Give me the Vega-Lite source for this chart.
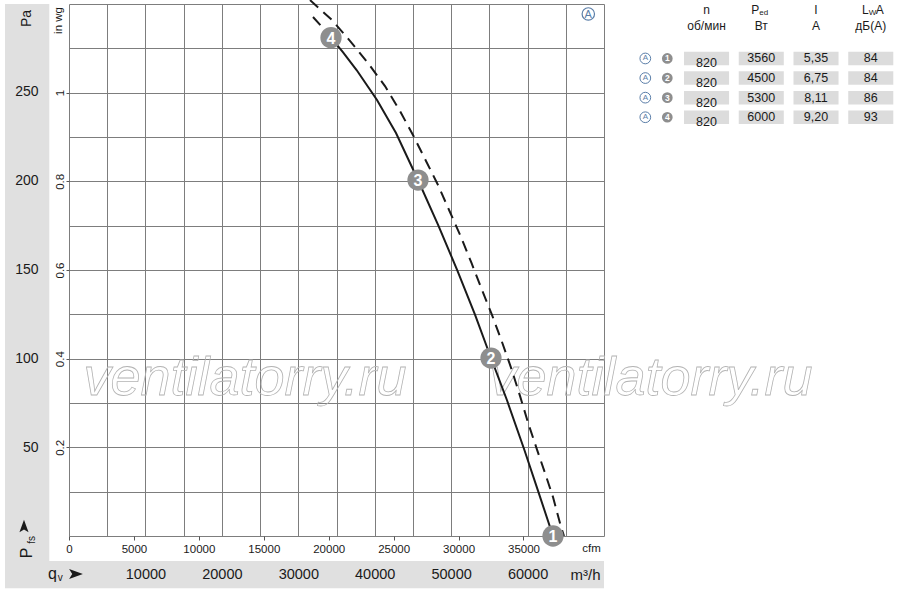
{
  "$schema": "https://vega.github.io/schema/vega-lite/v6.json",
  "width": 535,
  "height": 532,
  "autosize": {"type": "none"},
  "padding": {"left": 69, "top": 4, "right": 296, "bottom": 58},
  "background": "#ffffff",
  "config": {
    "font": "Liberation Sans, sans-serif",
    "view": {"stroke": null},
    "axis": {
      "labelColor": "#1a1a1a",
      "titleColor": "#1a1a1a",
      "titleFontWeight": "normal",
      "domain": false,
      "labelFlush": false,
      "labelOverlap": false,
      "gridColor": "#7d7d7d",
      "gridOpacity": 1,
      "gridWidth": 1,
      "tickColor": "#555555"
    },
    "text": {"color": "#1a1a1a"}
  },
  "datasets": {
    "curves": [
      {"s": "a", "q": 34280, "p": 280},
      {"s": "a", "q": 35837, "p": 271.9},
      {"s": "a", "q": 37630, "p": 261.8},
      {"s": "a", "q": 40299, "p": 245.0},
      {"s": "a", "q": 42785, "p": 226.4},
      {"s": "a", "q": 45663, "p": 200},
      {"s": "a", "q": 48306, "p": 174.7},
      {"s": "a", "q": 50779, "p": 149.5},
      {"s": "a", "q": 53134, "p": 124.2},
      {"s": "a", "q": 55214, "p": 100},
      {"s": "a", "q": 57295, "p": 76.4},
      {"s": "a", "q": 59585, "p": 48.3},
      {"s": "a", "q": 61338, "p": 25.8},
      {"s": "a", "q": 63327, "p": 0},
      {"s": "b", "q": 31925, "p": 291.6},
      {"s": "b", "q": 33103, "p": 286.0},
      {"s": "b", "q": 34280, "p": 280},
      {"s": "c", "q": 31532, "p": 301.1},
      {"s": "c", "q": 34411, "p": 289.9},
      {"s": "c", "q": 36897, "p": 277.5},
      {"s": "c", "q": 39121, "p": 265.7},
      {"s": "c", "q": 41345, "p": 252.8},
      {"s": "c", "q": 43308, "p": 238.8},
      {"s": "c", "q": 45074, "p": 224.7},
      {"s": "c", "q": 46710, "p": 210.7},
      {"s": "c", "q": 48215, "p": 197.8},
      {"s": "c", "q": 49785, "p": 182.6},
      {"s": "c", "q": 51289, "p": 168.0},
      {"s": "c", "q": 52663, "p": 153.4},
      {"s": "c", "q": 54102, "p": 137.6},
      {"s": "c", "q": 55345, "p": 124.2},
      {"s": "c", "q": 56654, "p": 109.0},
      {"s": "c", "q": 57897, "p": 93.8},
      {"s": "c", "q": 59009, "p": 78.7},
      {"s": "c", "q": 60121, "p": 62.9},
      {"s": "c", "q": 61168, "p": 49.4},
      {"s": "c", "q": 62280, "p": 35.4},
      {"s": "c", "q": 63327, "p": 21.9},
      {"s": "c", "q": 64373, "p": 5.1},
      {"s": "c", "q": 64766, "p": 0}
    ],
    "points": [
      {"k": "4", "q": 34280, "p": 280},
      {"k": "3", "q": 45663, "p": 200},
      {"k": "2", "q": 55214, "p": 100},
      {"k": "1", "q": 63327, "p": 0}
    ],
    "bands": [
      {"q": -8374, "q2": -2578, "p": 298.9, "p2": -14.05},
      {"q": -8374, "q2": 70000, "p": -14.05, "p2": -29.38}
    ],
    "watermark": [
      {"t": "ventilatorry.ru", "q": 23028, "p": 79.2},
      {"t": "ventilatorry.ru", "q": 76149, "p": 79.2}
    ],
    "badge": [{"t": "A", "q": 67945, "p": 293.3}],
    "notes": [
      {"dir": "h", "role": "main", "t": "q", "q": -2160, "p": -21.35},
      {"dir": "h", "role": "sub", "t": "v", "q": -1150, "p": -23.8},
      {"dir": "h", "role": "arrow", "t": "", "q": 916, "p": -21.35},
      {"dir": "v", "role": "main", "t": "P", "q": -5500, "p": -9.55},
      {"dir": "v", "role": "sub", "t": "fs", "q": -4780, "p": -2.2},
      {"dir": "v", "role": "arrow", "t": "", "q": -5888, "p": 5.6}
    ],
    "table": [
      {"row": "1", "n": "820", "P": "3560", "I": "5,35", "L": "84"},
      {"row": "2", "n": "820", "P": "4500", "I": "6,75", "L": "84"},
      {"row": "3", "n": "820", "P": "5300", "I": "8,11", "L": "86"},
      {"row": "4", "n": "820", "P": "6000", "I": "9,20", "L": "93"}
    ],
    "header": [
      {"col": "n", "line": "l1", "part": "c", "t": "n"},
      {"col": "n", "line": "l2", "part": "c", "t": "об/мин"},
      {"col": "P", "line": "l1", "part": "l", "t": "P"},
      {"col": "P", "line": "l1", "part": "s", "t": "ed"},
      {"col": "P", "line": "l2", "part": "c", "t": "Вт"},
      {"col": "I", "line": "l1", "part": "c", "t": "I"},
      {"col": "I", "line": "l2", "part": "c", "t": "A"},
      {"col": "L", "line": "l1", "part": "l", "t": "L"},
      {"col": "L", "line": "l1", "part": "s", "t": "W"},
      {"col": "L", "line": "l1", "part": "r", "t": "A"},
      {"col": "L", "line": "l2", "part": "c", "t": "дБ(A)"}
    ]
  },
  "layer": [
    {
      "data": {"values": [{"q": 0}]},
      "mark": {"type": "point", "opacity": 0},
      "encoding": {
        "x": {
          "field": "q",
          "type": "quantitative",
          "scale": {"domain": [0, 70000], "nice": false, "zero": false},
          "axis": {
            "orient": "bottom",
            "values": [0, 5000, 10000, 15000, 20000, 25000, 30000, 35000, 40000, 45000, 50000, 55000, 60000, 65000, 70000],
            "grid": true,
            "ticks": false,
            "labels": false,
            "title": null,
            "zindex": 0
          }
        }
      }
    },
    {
      "data": {"values": [{"cfm": 0, "inwg": 0}]},
      "mark": {"type": "point", "opacity": 0},
      "encoding": {
        "x": {
          "field": "cfm",
          "type": "quantitative",
          "scale": {"domain": [0, 41200.5], "nice": false, "zero": false},
          "axis": {
            "orient": "bottom",
            "values": [0, 5000, 10000, 15000, 20000, 25000, 30000, 35000],
            "format": "d",
            "grid": false,
            "tickSize": 4,
            "labelPadding": 3,
            "labelFontSize": 11.5,
            "title": "cfm",
            "titleFontSize": 11.5,
            "titleX": 522,
            "titleY": 12,
            "titleAlign": "center",
            "titleBaseline": "middle",
            "titleAngle": 0
          }
        },
        "y": {
          "field": "inwg",
          "type": "quantitative",
          "scale": {"domain": [0, 1.2], "nice": false, "zero": false},
          "axis": {
            "orient": "left",
            "values": [0, 0.1, 0.2, 0.3, 0.4, 0.5, 0.6, 0.7, 0.8, 0.9, 1, 1.1, 1.2],
            "format": ".1~f",
            "grid": true,
            "tickSize": 3,
            "tickOpacity": {"condition": {"test": "indexof([0.2, 0.4, 0.6, 0.8, 1], datum.value) >= 0", "value": 1}, "value": 0},
            "labelExpr": "indexof(['0.2', '0.4', '0.6', '0.8', '1'], datum.label) >= 0 ? datum.label : ''",
            "labelAngle": 270,
            "labelAlign": "center",
            "labelBaseline": "bottom",
            "labelPadding": 1,
            "labelFontSize": 11.5,
            "title": "in wg",
            "titleFontSize": 11.5,
            "titleX": -10.5,
            "titleY": 16,
            "titleAngle": 270,
            "titleAlign": "center",
            "titleBaseline": "middle"
          }
        }
      }
    },
    {
      "encoding": {
        "x": {
          "field": "q",
          "type": "quantitative",
          "scale": {"domain": [0, 70000], "nice": false, "zero": false},
          "axis": {
            "orient": "bottom",
            "values": [10000, 20000, 30000, 40000, 50000, 60000],
            "format": "d",
            "grid": false,
            "ticks": false,
            "tickSize": 0,
            "labelPadding": 31,
            "labelFontSize": 14.5,
            "title": "m³/h",
            "titleFontSize": 15,
            "titleX": 516,
            "titleY": 38,
            "titleAlign": "center",
            "titleBaseline": "middle",
            "titleAngle": 0,
            "zindex": 1
          }
        },
        "y": {
          "field": "p",
          "type": "quantitative",
          "scale": {"domain": [0, 298.9], "nice": false, "zero": false},
          "axis": {
            "orient": "left",
            "values": [50, 100, 150, 200, 250],
            "grid": false,
            "ticks": false,
            "tickSize": 0,
            "labelPadding": 31,
            "labelFontSize": 14,
            "title": "Pa",
            "titleFontSize": 14,
            "titleX": -43,
            "titleY": 14,
            "titleAngle": 270,
            "titleAlign": "center",
            "titleBaseline": "middle",
            "zindex": 1
          }
        }
      },
      "layer": [
        {
          "data": {"name": "bands"},
          "mark": {"type": "rect", "color": "#e0e0e0"},
          "encoding": {"x2": {"field": "q2"}, "y2": {"field": "p2"}}
        },
        {
          "data": {"name": "watermark"},
          "mark": {"type": "text", "fontSize": 54, "fontStyle": "italic", "fillOpacity": 0, "stroke": "#b3b3b3", "strokeWidth": 0.8, "align": "center", "baseline": "alphabetic"},
          "encoding": {"text": {"field": "t"}}
        },
        {
          "data": {"name": "curves"},
          "transform": [{"filter": "datum.s === 'a'"}],
          "mark": {"type": "line", "color": "#1a1a1a", "strokeWidth": 2}
        },
        {
          "data": {"name": "curves"},
          "transform": [{"filter": "datum.s !== 'a'"}],
          "mark": {"type": "line", "color": "#1a1a1a", "strokeWidth": 2, "strokeDash": [11, 7]},
          "encoding": {"detail": {"field": "s"}}
        },
        {
          "data": {"name": "points"},
          "mark": {"type": "point", "shape": "circle", "filled": true, "color": "#8e8e8e", "opacity": 1, "size": 452}
        },
        {
          "data": {"name": "points"},
          "mark": {"type": "text", "fontSize": 16, "fontWeight": "bold", "color": "#ffffff", "baseline": "middle", "dy": 1},
          "encoding": {"text": {"field": "k"}}
        },
        {
          "data": {"name": "badge"},
          "mark": {"type": "point", "shape": "circle", "filled": false, "stroke": "#5b7ea8", "strokeWidth": 1.2, "opacity": 1, "size": 154}
        },
        {
          "data": {"name": "badge"},
          "mark": {"type": "text", "fontSize": 11, "color": "#5b7ea8", "baseline": "middle", "dy": 1},
          "encoding": {"text": {"field": "t"}}
        },
        {
          "data": {"name": "notes"},
          "transform": [{"filter": "datum.dir === 'h' && datum.role !== 'arrow'"}],
          "mark": {"type": "text", "baseline": "middle", "align": "center"},
          "encoding": {
            "text": {"field": "t"},
            "size": {"field": "role", "type": "nominal", "scale": {"domain": ["main", "sub"], "range": [16, 10]}, "legend": null}
          }
        },
        {
          "data": {"name": "notes"},
          "transform": [{"filter": "datum.dir === 'v' && datum.role !== 'arrow'"}],
          "mark": {"type": "text", "baseline": "middle", "align": "center", "angle": 270},
          "encoding": {
            "text": {"field": "t"},
            "size": {"field": "role", "type": "nominal", "scale": {"domain": ["main", "sub"], "range": [16, 10]}, "legend": null}
          }
        },
        {
          "data": {"name": "notes"},
          "transform": [{"filter": "datum.dir === 'h' && datum.role === 'arrow'"}],
          "mark": {"type": "point", "shape": "M -1 -0.72 L 1 0 L -1 0.72 L -0.55 0 Z", "filled": true, "color": "#1a1a1a", "opacity": 1, "size": 190}
        },
        {
          "data": {"name": "notes"},
          "transform": [{"filter": "datum.dir === 'v' && datum.role === 'arrow'"}],
          "mark": {"type": "point", "shape": "M -0.72 1 L 0 -1 L 0.72 1 L 0 0.55 Z", "filled": true, "color": "#1a1a1a", "opacity": 1, "size": 160}
        }
      ]
    },
    {
      "data": {"name": "table"},
      "transform": [{"fold": ["n", "P", "I", "L"], "as": ["col", "val"]}],
      "encoding": {
        "x": {"field": "col", "type": "nominal", "scale": {"type": "band", "domain": ["n", "P", "I", "L"], "range": [615, 824.3], "paddingInner": 0.177, "paddingOuter": 0}, "axis": null},
        "y": {"field": "row", "type": "nominal", "scale": {"type": "band", "domain": ["1", "2", "3", "4"], "range": [47.7, 120], "paddingInner": 0.31, "paddingOuter": 0}, "axis": null}
      },
      "layer": [
        {"mark": {"type": "rect", "color": "#dcdcdc"}},
        {
          "transform": [{"filter": "datum.col !== 'n'"}],
          "mark": {"type": "text", "fontSize": 12.5, "baseline": "middle"},
          "encoding": {"text": {"field": "val"}}
        },
        {
          "transform": [{"filter": "datum.col === 'n'"}],
          "mark": {"type": "text", "fontSize": 12.5, "baseline": "middle", "dy": 5},
          "encoding": {"text": {"field": "val"}}
        }
      ]
    },
    {
      "data": {"name": "table"},
      "encoding": {
        "y": {"field": "row", "type": "nominal", "scale": {"type": "band", "domain": ["1", "2", "3", "4"], "range": [47.7, 120], "paddingInner": 0.31, "paddingOuter": 0}, "axis": null}
      },
      "layer": [
        {
          "mark": {"type": "point", "shape": "circle", "filled": false, "stroke": "#5b7ea8", "strokeWidth": 1, "opacity": 1, "size": 115},
          "encoding": {"x": {"datum": "A", "type": "nominal", "scale": {"type": "point", "domain": ["A", "num"], "range": [576.3, 598.3], "padding": 0}, "axis": null}}
        },
        {
          "mark": {"type": "text", "fontSize": 8, "color": "#5b7ea8", "baseline": "middle"},
          "encoding": {"x": {"datum": "A", "type": "nominal"}, "text": {"value": "A"}}
        },
        {
          "mark": {"type": "point", "shape": "circle", "filled": true, "color": "#8e8e8e", "opacity": 1, "size": 115},
          "encoding": {"x": {"datum": "num", "type": "nominal"}}
        },
        {
          "mark": {"type": "text", "fontSize": 8.5, "fontWeight": "bold", "color": "#ffffff", "baseline": "middle"},
          "encoding": {"x": {"datum": "num", "type": "nominal"}, "text": {"field": "row"}}
        }
      ]
    },
    {
      "data": {"name": "header"},
      "encoding": {
        "x": {"field": "col", "type": "nominal", "scale": {"type": "band", "domain": ["n", "P", "I", "L"], "range": [615, 824.3], "paddingInner": 0.177, "paddingOuter": 0}, "axis": null},
        "y": {"field": "line", "type": "nominal", "scale": {"type": "point", "domain": ["l1", "l2"], "range": [6, 22], "padding": 0}, "axis": null}
      },
      "layer": [
        {
          "transform": [{"filter": "datum.part === 'c'"}],
          "mark": {"type": "text", "fontSize": 12, "baseline": "middle"},
          "encoding": {"text": {"field": "t"}}
        },
        {
          "transform": [{"filter": "datum.part === 'l'"}],
          "mark": {"type": "text", "fontSize": 12, "baseline": "middle", "align": "right", "dx": -2},
          "encoding": {"text": {"field": "t"}}
        },
        {
          "transform": [{"filter": "datum.part === 's'"}],
          "mark": {"type": "text", "fontSize": 8, "baseline": "middle", "align": "left", "dx": -2, "dy": 3},
          "encoding": {"text": {"field": "t"}}
        },
        {
          "transform": [{"filter": "datum.part === 'r'"}],
          "mark": {"type": "text", "fontSize": 12, "baseline": "middle", "align": "left", "dx": 5},
          "encoding": {"text": {"field": "t"}}
        }
      ]
    }
  ],
  "resolve": {
    "scale": {"x": "independent", "y": "independent"},
    "axis": {"x": "independent", "y": "independent"}
  }
}
